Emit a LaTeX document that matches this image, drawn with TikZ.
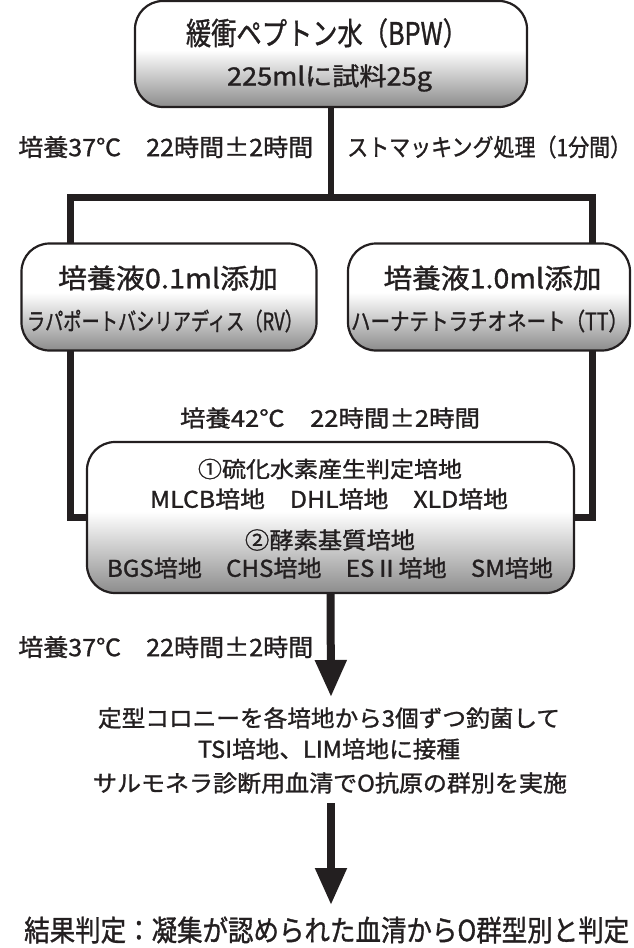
\documentclass[tikz,border=0pt]{standalone}
\usepackage{fontspec}
\setmainfont{Noto Sans CJK JP}[FakeBold=1.2]
\usepackage{graphicx}
\usetikzlibrary{arrows.meta}
\definecolor{ink}{HTML}{231F20}
\pgfdeclareverticalshading{boxgrad}{100bp}{color(0bp)=(black!45); color(25bp)=(black!45); color(52bp)=(white); color(100bp)=(white)}
\newcommand{\fitw}[3]{\resizebox{#1pt}{\height}{\fontsize{#2pt}{#2pt}\selectfont #3}}
\begin{document}
\begin{tikzpicture}[x=1pt,y=-1pt,
 box/.style={draw=ink, line width=2.2pt, rounded corners=28pt, shade, shading=boxgrad, inner sep=0pt},
 txt/.style={inner sep=0pt, text=ink},
 bus/.style={draw=ink, line width=7pt, line join=miter},
 stem/.style={draw=ink, line width=5.5pt},
 arr/.style={draw=ink, line width=8pt, -{Triangle[length=37pt,width=30pt]}}]
\useasboundingbox (0,0) rectangle (633,948);
% coordinates for the bus
\coordinate (jL) at (70,197);
\coordinate (jC) at (331,197);
\coordinate (jR) at (592,197);
% boxes
\node[box, minimum width=392pt, minimum height=106pt] (top) at (331,54) {};
\node[box, minimum width=295pt, minimum height=107pt] (lbox) at (169,297) {};
\node[box, minimum width=282pt, minimum height=107pt] (rbox) at (489,297) {};
\node[box, minimum width=487pt, minimum height=151pt] (bbox) at (330.5,517.5) {};
% connectors
\draw[stem] (top.south) -- (jC);
\draw[bus] ([yshift=-1pt]lbox.north -| jL) -- (jL) -- (jR) -- ([yshift=-1pt]rbox.north -| jR);
\draw[bus] ([yshift=1pt]lbox.south -| jL) |- ([xshift=1pt]bbox.west);
\draw[bus] ([yshift=1pt]rbox.south -| jR) |- ([xshift=-1pt]bbox.east);
% texts in boxes
\node[txt] (t1) at (327,33) {\fitw{282}{31}{緩衝ペプトン水（BPW）}};
\node[txt] (t2) at (329.5,78) {\fitw{205}{25}{225mlに試料25g}};
\node[txt] (l1) at (168,278) {\fitw{220}{27}{培養液0.1ml添加}};
\node[txt] (l2) at (165,321) {\fitw{276}{24}{ラパポートバシリアディス（RV）}};
\node[txt] (r1) at (492.5,278) {\fitw{218}{27}{培養液1.0ml添加}};
\node[txt] (r2) at (489.5,321) {\fitw{277}{24}{ハーナテトラチオネート（TT）}};
\node[txt] (b1) at (330,469) {\fitw{264}{22}{①硫化水素産生判定培地}};
\node[txt] (b2) at (329,499) {\fitw{358}{23}{MLCB培地　DHL培地　XLD培地}};
\node[txt] (b3) at (330,540) {\fitw{170}{23}{②酵素基質培地}};
\node[txt] (b4) at (330,568) {\fitw{446}{23}{BGS培地　CHS培地　ESⅡ培地　SM培地}};
% labels
\node[txt, anchor=west] (lab1) at (18,147) {\fitw{295}{24}{培養37℃　22時間±2時間}};
\node[txt, anchor=west] (lab2) at (347,147) {\fitw{284}{24}{ストマッキング処理（1分間）}};
\node[txt] (lab3) at (330,418) {\fitw{300}{23}{培養42℃　22時間±2時間}};
\node[txt, anchor=west] (lab4) at (18,647) {\fitw{295}{24}{培養37℃　22時間±2時間}};
% arrows and result texts
\coordinate (a1) at (331,697);
\draw[arr] (bbox.south) -- (a1);
\node[txt] (c1) at (329,718) {\fitw{462}{23}{定型コロニーを各培地から3個ずつ釣菌して}};
\node[txt] (c2) at (329,749) {\fitw{262}{23}{TSI培地、LIM培地に接種}};
\node[txt] (c3) at (330,783) {\fitw{474}{23}{サルモネラ診断用血清でO抗原の群別を実施}};
\coordinate (s2) at (331,803);
\coordinate (a2) at (331,905);
\draw[arr] (s2) -- (a2);
\node[txt, anchor=west] (fin) at (24,930) {\fitw{605}{29}{結果判定：凝集が認められた血清からO群型別と判定}};
\end{tikzpicture}
\end{document}
